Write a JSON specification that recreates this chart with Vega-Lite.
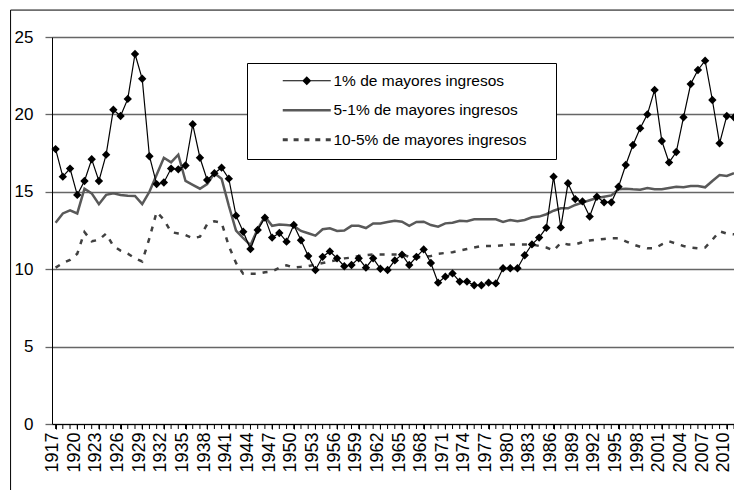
{
  "$schema": "https://vega.github.io/schema/vega-lite/v6.json",
  "width": 682,
  "height": 387,
  "autosize": {"type": "none"},
  "padding": {"left": 52, "top": 37, "right": 0, "bottom": 66},
  "background": "#ffffff",
  "config": {
    "view": {"stroke": null},
    "font": "Liberation Sans",
    "axis": {"labelFont": "Liberation Sans", "labelColor": "#000000", "titleFont": "Liberation Sans"},
    "axisX": {"labelOverlap": false, "labelFlush": false, "labelBound": false}
  },
  "data": {
    "values": [
      {"year": 1917, "top1": 17.76, "top51": 13.0, "top105": 10.1},
      {"year": 1918, "top1": 15.98, "top51": 13.6, "top105": 10.4},
      {"year": 1919, "top1": 16.5, "top51": 13.8, "top105": 10.6},
      {"year": 1920, "top1": 14.8, "top51": 13.6, "top105": 11.0},
      {"year": 1921, "top1": 15.7, "top51": 15.2, "top105": 12.4},
      {"year": 1922, "top1": 17.1, "top51": 14.9, "top105": 11.8},
      {"year": 1923, "top1": 15.7, "top51": 14.2, "top105": 11.9},
      {"year": 1924, "top1": 17.4, "top51": 14.8, "top105": 12.3},
      {"year": 1925, "top1": 20.3, "top51": 14.9, "top105": 11.5},
      {"year": 1926, "top1": 19.9, "top51": 14.8, "top105": 11.2},
      {"year": 1927, "top1": 21.0, "top51": 14.75, "top105": 11.0},
      {"year": 1928, "top1": 23.9, "top51": 14.73, "top105": 10.7},
      {"year": 1929, "top1": 22.3, "top51": 14.2, "top105": 10.5},
      {"year": 1930, "top1": 17.3, "top51": 15.0, "top105": 12.0},
      {"year": 1931, "top1": 15.5, "top51": 16.1, "top105": 13.7},
      {"year": 1932, "top1": 15.6, "top51": 17.2, "top105": 13.2},
      {"year": 1933, "top1": 16.5, "top51": 16.9, "top105": 12.4},
      {"year": 1934, "top1": 16.45, "top51": 17.4, "top105": 12.3},
      {"year": 1935, "top1": 16.7, "top51": 15.7, "top105": 12.2},
      {"year": 1936, "top1": 19.36, "top51": 15.45, "top105": 12.0},
      {"year": 1937, "top1": 17.2, "top51": 15.2, "top105": 12.1},
      {"year": 1938, "top1": 15.76, "top51": 15.5, "top105": 12.9},
      {"year": 1939, "top1": 16.2, "top51": 16.2, "top105": 13.1},
      {"year": 1940, "top1": 16.56, "top51": 15.85, "top105": 13.0},
      {"year": 1941, "top1": 15.85, "top51": 14.1, "top105": 11.5},
      {"year": 1942, "top1": 13.46, "top51": 12.5, "top105": 10.4},
      {"year": 1943, "top1": 12.42, "top51": 12.0, "top105": 9.7},
      {"year": 1944, "top1": 11.3, "top51": 11.55, "top105": 9.7},
      {"year": 1945, "top1": 12.53, "top51": 12.6, "top105": 9.7},
      {"year": 1946, "top1": 13.33, "top51": 13.4, "top105": 9.8},
      {"year": 1947, "top1": 12.04, "top51": 12.8, "top105": 9.85},
      {"year": 1948, "top1": 12.34, "top51": 12.88, "top105": 10.1},
      {"year": 1949, "top1": 11.78, "top51": 12.86, "top105": 10.25},
      {"year": 1950, "top1": 12.86, "top51": 12.8, "top105": 10.1},
      {"year": 1951, "top1": 11.87, "top51": 12.47, "top105": 10.15},
      {"year": 1952, "top1": 10.85, "top51": 12.32, "top105": 10.2},
      {"year": 1953, "top1": 9.95, "top51": 12.17, "top105": 10.3},
      {"year": 1954, "top1": 10.8, "top51": 12.58, "top105": 10.4},
      {"year": 1955, "top1": 11.15, "top51": 12.64, "top105": 10.5},
      {"year": 1956, "top1": 10.7, "top51": 12.47, "top105": 10.6},
      {"year": 1957, "top1": 10.19, "top51": 12.5, "top105": 10.7},
      {"year": 1958, "top1": 10.27, "top51": 12.8, "top105": 10.75},
      {"year": 1959, "top1": 10.7, "top51": 12.8, "top105": 10.85},
      {"year": 1960, "top1": 10.1, "top51": 12.66, "top105": 10.9},
      {"year": 1961, "top1": 10.7, "top51": 12.96, "top105": 10.95},
      {"year": 1962, "top1": 10.03, "top51": 12.96, "top105": 10.95},
      {"year": 1963, "top1": 9.95, "top51": 13.05, "top105": 10.95},
      {"year": 1964, "top1": 10.57, "top51": 13.13, "top105": 10.95},
      {"year": 1965, "top1": 10.94, "top51": 13.07, "top105": 10.95},
      {"year": 1966, "top1": 10.27, "top51": 12.8, "top105": 10.8},
      {"year": 1967, "top1": 10.8, "top51": 13.05, "top105": 10.75},
      {"year": 1968, "top1": 11.28, "top51": 13.07, "top105": 10.8},
      {"year": 1969, "top1": 10.4, "top51": 12.85, "top105": 10.85},
      {"year": 1970, "top1": 9.13, "top51": 12.75, "top105": 11.0},
      {"year": 1971, "top1": 9.52, "top51": 12.96, "top105": 11.05},
      {"year": 1972, "top1": 9.73, "top51": 13.0, "top105": 11.1},
      {"year": 1973, "top1": 9.2, "top51": 13.13, "top105": 11.2},
      {"year": 1974, "top1": 9.2, "top51": 13.1, "top105": 11.3},
      {"year": 1975, "top1": 8.96, "top51": 13.22, "top105": 11.4},
      {"year": 1976, "top1": 8.96, "top51": 13.22, "top105": 11.5},
      {"year": 1977, "top1": 9.13, "top51": 13.22, "top105": 11.5},
      {"year": 1978, "top1": 9.08, "top51": 13.22, "top105": 11.5},
      {"year": 1979, "top1": 10.06, "top51": 13.05, "top105": 11.55},
      {"year": 1980, "top1": 10.06, "top51": 13.18, "top105": 11.6},
      {"year": 1981, "top1": 10.06, "top51": 13.1, "top105": 11.6},
      {"year": 1982, "top1": 10.9, "top51": 13.18, "top105": 11.6},
      {"year": 1983, "top1": 11.6, "top51": 13.35, "top105": 11.6},
      {"year": 1984, "top1": 12.04, "top51": 13.4, "top105": 11.5},
      {"year": 1985, "top1": 12.68, "top51": 13.55, "top105": 11.4},
      {"year": 1986, "top1": 15.98, "top51": 13.78, "top105": 11.2},
      {"year": 1987, "top1": 12.7, "top51": 13.93, "top105": 11.7},
      {"year": 1988, "top1": 15.55, "top51": 13.93, "top105": 11.6},
      {"year": 1989, "top1": 14.53, "top51": 14.15, "top105": 11.6},
      {"year": 1990, "top1": 14.38, "top51": 14.3, "top105": 11.75},
      {"year": 1991, "top1": 13.4, "top51": 14.45, "top105": 11.85},
      {"year": 1992, "top1": 14.68, "top51": 14.6, "top105": 11.9},
      {"year": 1993, "top1": 14.32, "top51": 14.68, "top105": 11.95},
      {"year": 1994, "top1": 14.32, "top51": 14.77, "top105": 12.0},
      {"year": 1995, "top1": 15.33, "top51": 15.16, "top105": 12.0},
      {"year": 1996, "top1": 16.73, "top51": 15.2, "top105": 11.8},
      {"year": 1997, "top1": 18.02, "top51": 15.16, "top105": 11.6},
      {"year": 1998, "top1": 19.1, "top51": 15.14, "top105": 11.45},
      {"year": 1999, "top1": 20.0, "top51": 15.25, "top105": 11.35},
      {"year": 2000, "top1": 21.58, "top51": 15.16, "top105": 11.35},
      {"year": 2001, "top1": 18.28, "top51": 15.16, "top105": 11.6},
      {"year": 2002, "top1": 16.9, "top51": 15.25, "top105": 11.8},
      {"year": 2003, "top1": 17.57, "top51": 15.33, "top105": 11.65},
      {"year": 2004, "top1": 19.81, "top51": 15.29, "top105": 11.5},
      {"year": 2005, "top1": 21.96, "top51": 15.37, "top105": 11.4},
      {"year": 2006, "top1": 22.87, "top51": 15.37, "top105": 11.35},
      {"year": 2007, "top1": 23.47, "top51": 15.29, "top105": 11.4},
      {"year": 2008, "top1": 20.93, "top51": 15.7, "top105": 11.9},
      {"year": 2009, "top1": 18.13, "top51": 16.08, "top105": 12.45},
      {"year": 2010, "top1": 19.9, "top51": 16.02, "top105": 12.3},
      {"year": 2011, "top1": 19.81, "top51": 16.2, "top105": 12.25}
    ]
  },
  "encoding": {
    "x": {
      "field": "year", "type": "quantitative",
      "scale": {"domain": [1916.5, 2011.0], "nice": false, "zero": false},
      "axis": {
        "title": null,
        "grid": false,
        "values": [1917,1920,1923,1926,1929,1932,1935,1938,1941,1944,1947,1950,1953,1956,1959,1962,1965,1968,1971,1974,1977,1980,1983,1986,1989,1992,1995,1998,2001,2004,2007,2010],
        "format": "d",
        "labelAngle": 270,
        "labelFontSize": 18,
        "labelPadding": 3,
        "labelOffset": -3,
        "labelOverlap": false,
        "labelFlush": false,
        "labelBound": false,
        "tickSize": 5,
        "tickColor": "#000000",
        "domainColor": "#000000",
        "domainWidth": 1
      }
    }
  },
  "layer": [
    {
      "transform": [{"filter": "datum.year == 1917"}],
      "mark": {"type": "rect", "fillOpacity": 0, "stroke": "#000000", "strokeWidth": 1},
      "encoding": {
        "x": {
          "datum": 1910.76, "type": "quantitative",
          "axis": {
            "title": null,
            "grid": false,
            "values": [1917,1920,1923,1926,1929,1932,1935,1938,1941,1944,1947,1950,1953,1956,1959,1962,1965,1968,1971,1974,1977,1980,1983,1986,1989,1992,1995,1998,2001,2004,2007,2010],
            "format": "d",
            "labelAngle": 270,
            "labelFontSize": 18,
            "labelPadding": 3,
            "labelOffset": -3,
            "labelOverlap": false,
            "labelFlush": false,
            "labelBound": false,
            "tickSize": 5,
            "tickColor": "#000000",
            "domainColor": "#000000",
            "domainWidth": 1
          }
        },
        "x2": {"datum": 2030},
        "y": {
          "datum": 26.74, "type": "quantitative",
          "scale": {"domain": [0, 25], "nice": false},
          "axis": {
            "title": null,
            "values": [0, 5, 10, 15, 20, 25],
            "grid": true,
            "gridColor": "#666666",
            "gridWidth": 1.3,
            "gridOpacity": 1,
            "tickSize": 7,
            "tickColor": "#666666",
            "tickWidth": 1.3,
            "labelFontSize": 17,
            "labelPadding": 12,
            "domainColor": "#000000",
            "domainWidth": 1
          }
        },
        "y2": {"datum": -10}
      }
    },
    {
      "mark": {"type": "rule", "color": "#000000", "strokeWidth": 1},
      "encoding": {
        "y": {"datum": 0, "type": "quantitative"},
        "y2": {"datum": -0.323}
      }
    },
    {
      "mark": {"type": "line", "color": "#404040", "strokeWidth": 2.5, "strokeDash": [5, 7]},
      "encoding": {
        "y": {"field": "top105", "type": "quantitative"}
      }
    },
    {
      "mark": {"type": "line", "color": "#595959", "strokeWidth": 2.5},
      "encoding": {
        "y": {"field": "top51", "type": "quantitative"}
      }
    },
    {
      "mark": {"type": "line", "color": "#000000", "strokeWidth": 1.2},
      "encoding": {
        "y": {"field": "top1", "type": "quantitative"}
      }
    },
    {
      "mark": {"type": "point", "shape": "diamond", "filled": true, "color": "#000000", "opacity": 1, "size": 70},
      "encoding": {
        "y": {"field": "top1", "type": "quantitative"}
      }
    },
    {
      "transform": [
        {"fold": ["top1", "top51", "top105"], "as": ["serie", "v"]},
        {"filter": "datum.year > 3000"}
      ],
      "mark": {"type": "point", "filled": true, "opacity": 1, "strokeWidth": 0},
      "encoding": {
        "y": {"field": "v", "type": "quantitative"},
        "color": {
          "field": "serie", "type": "nominal",
          "scale": {"domain": ["top1", "top51", "top105"], "range": ["#000000", "#595959", "#404040"]}
        },
        "shape": {
          "field": "serie", "type": "nominal",
          "scale": {
            "domain": ["top1", "top51", "top105"],
            "range": [
              "M-4.8,-0.12H4.8V0.12H-4.8ZM0,-0.9L0.9,0L0,0.9L-0.9,0Z",
              "M-4.8,-0.25H4.8V0.25H-4.8Z",
              "M-4.8,-0.28H-3.8V0.28H-4.8ZM-2.63,-0.28H-1.63V0.28H-2.63ZM-0.46,-0.28H0.54V0.28H-0.46ZM1.71,-0.28H2.71V0.28H1.71ZM3.8,-0.28H4.8V0.28H3.8Z"
            ]
          },
          "legend": {
            "orient": "none",
            "legendX": 195,
            "legendY": 26,
            "title": " ",
            "titleOrient": "right",
            "titlePadding": 20,
            "titleFontSize": 15.5,
            "titleFont": "Liberation Sans",
            "padding": 10,
            "strokeColor": "#000000",
            "fillColor": "#ffffff",
            "labelFont": "Liberation Sans",
            "labelFontSize": 15.5,
            "labelColor": "#000000",
            "labelLimit": 400,
            "symbolSize": 100,
            "symbolOffset": 42,
            "labelOffset": 19,
            "rowPadding": 12.5,
            "symbolStrokeWidth": 0,
            "symbolOpacity": 1,
            "labelExpr": "datum.value == 'top1' ? '1% de mayores ingresos' : datum.value == 'top51' ? '5-1% de mayores ingresos' : '10-5% de mayores ingresos'"
          }
        }
      }
    }
  ]
}
